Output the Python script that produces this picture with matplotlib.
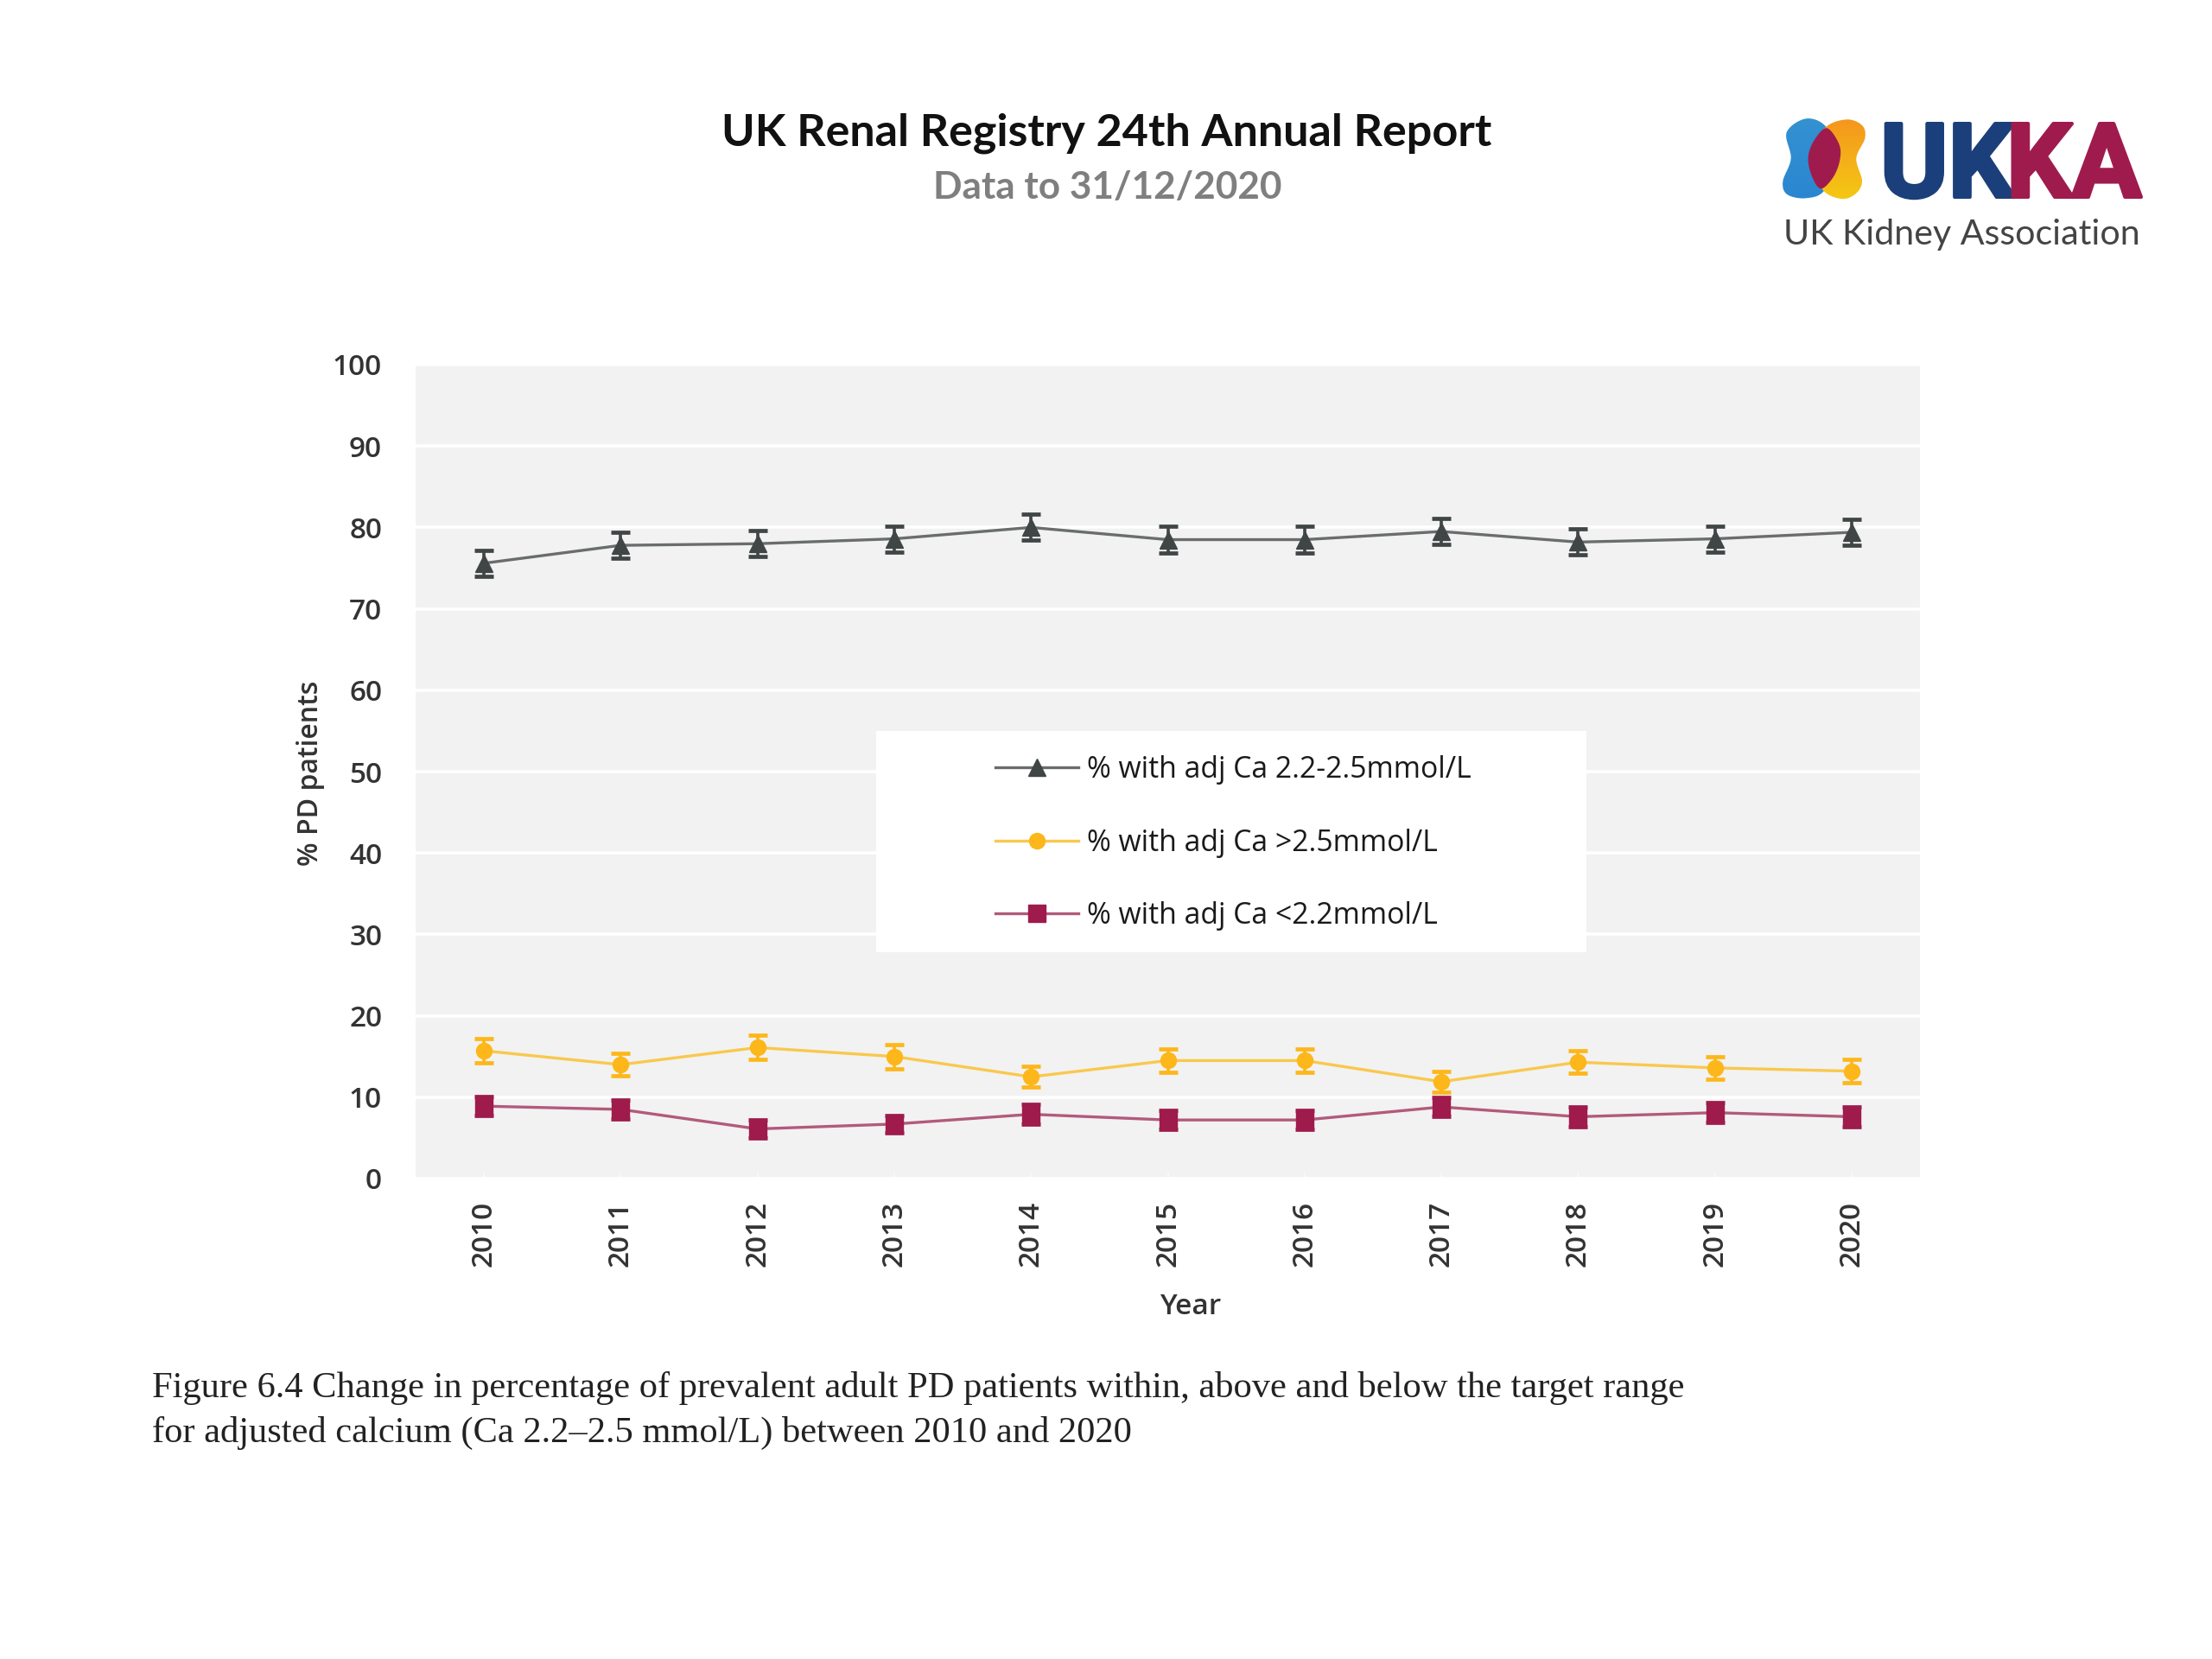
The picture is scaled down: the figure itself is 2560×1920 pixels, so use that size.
import numpy as np
import matplotlib
matplotlib.use('Agg')
import matplotlib.pyplot as plt
from matplotlib.patches import Rectangle, PathPatch
from matplotlib.path import Path
from matplotlib.lines import Line2D
import matplotlib.patheffects as pe

years = ['2010','2011','2012','2013','2014','2015','2016','2017','2018','2019','2020']
within = [75.6,77.8,78.0,78.6,80.0,78.5,78.5,79.5,78.2,78.6,79.4]
above = [15.7,14.0,16.1,15.0,12.5,14.5,14.5,11.9,14.3,13.6,13.2]
below = [8.9,8.5,6.1,6.7,7.9,7.2,7.2,8.8,7.6,8.1,7.6]
within_err = [1.6,1.6,1.6,1.6,1.6,1.6,1.6,1.6,1.6,1.6,1.6]
above_err = [1.5,1.4,1.5,1.5,1.3,1.4,1.4,1.3,1.4,1.4,1.4]
below_err = [1.2,1.2,1.1,1.1,1.2,1.2,1.2,1.2,1.2,1.2,1.2]
labels = ['% with adj Ca 2.2-2.5mmol/L','% with adj Ca >2.5mmol/L','% with adj Ca <2.2mmol/L']
yticks = list(range(0,101,10))

W,H = 2560,1920
FONT = 'Open Sans'
fig = plt.figure(figsize=(W/100,H/100),dpi=100,facecolor='white')
L,R,T,B = 481,2222,422,1364
ax = fig.add_axes([L/W,1-B/H,(R-L)/W,(B-T)/H])
ax.set_facecolor('#F2F2F2')
for s in ax.spines.values():
    s.set_visible(False)
ax.set_xlim(-0.5,10.5); ax.set_ylim(0,100)
ax.set_yticks(yticks)
ax.yaxis.grid(True,color='white',lw=2.6); ax.set_axisbelow(True)
x = np.arange(len(years))
ax.set_xticks(x); ax.set_xticklabels(years,rotation=90)
ax.tick_params(axis='x',length=5,width=1.2,color='#FAFAFA',direction='in',pad=18.5,labelsize=24,labelcolor='#333333')
ax.tick_params(axis='y',length=0,pad=28,labelsize=24,labelcolor='#333333')
for t in ax.get_xticklabels()+ax.get_yticklabels():
    t.set_family(FONT); t.set_fontweight('semibold')
ax.set_ylabel('% PD patients',family=FONT,fontweight='semibold',fontsize=23,color='#333333',labelpad=6.5,y=0.498)
ax.set_xlabel('Year',family=FONT,fontweight='semibold',fontsize=24,color='#333333',labelpad=21.5,x=0.515)

series = [(within,within_err,'#6A6D6D','#404545','^',14),
          (above,above_err,'#F9C84E','#FDB71A','o',13),
          (below,below_err,'#B25A7C','#9E1B4C','s',14)]
for v,e,lc,mc,m,ms in series:
    ax.plot(x,v,color=lc,lw=2.4,zorder=3)
    ax.errorbar(x,v,yerr=e,fmt='none',ecolor=mc,elinewidth=2.6,capsize=8,capthick=3.4,zorder=4)
    ax.plot(x,v,ls='none',marker=m,ms=ms,mfc=mc,mec=mc,zorder=5)

# full-figure pixel overlay
ov = fig.add_axes([0,0,1,1],zorder=10)
ov.set_xlim(0,W); ov.set_ylim(H,0); ov.axis('off')
ov.add_patch(Rectangle((1014,846),822,256,fc='white',ec='none'))
handles = [Line2D([],[],color=lc,lw=2.4,marker=m,ms=ms,mfc=mc,mec=mc) for _,_,lc,mc,m,ms in series]
leg = ov.legend(handles,labels,loc='upper left',bbox_to_anchor=(1152/W,1-874/H),frameon=False,
    handlelength=2.85,handletextpad=0.3,labelspacing=1.5,borderpad=0,borderaxespad=0,
    prop={'family':FONT,'size':24.3,'weight':'normal'},labelcolor='#1A1A1A')

fig.text(1281/W,1-154/H,'UK Renal Registry 24th Annual Report',ha='center',va='center',family='Lato',fontweight='bold',fontsize=37.5,color='#111111')
fig.text(1282/W,1-217/H,'Data to 31/12/2020',ha='center',va='center',family='Lato',fontweight='bold',fontsize=31.8,color='#7F7F7F')

cap = ['Figure 6.4 Change in percentage of prevalent adult PD patients within, above and below the target range',
       'for adjusted calcium (Ca 2.2\u20132.5 mmol/L) between 2010 and 2020']
for yy,s in zip((1606,1658),cap):
    ov.text(176,yy,s,ha='left',va='center',family='Liberation Serif',fontsize=30.6,color='#222222')

# logo
def smooth(pts,n=24):
    p=np.array(pts,float); out=[]
    N=len(p)
    for i in range(N):
        p0,p1,p2,p3=p[(i-1)%N],p[i],p[(i+1)%N],p[(i+2)%N]
        for t in np.linspace(0,1,n,endpoint=False):
            out.append(0.5*((2*p1)+(-p0+p2)*t+(2*p0-5*p1+4*p2-p3)*t*t+(-p0+3*p1-3*p2+p3)*t**3))
    return Path(np.array(out+[out[0]]),closed=True)
def logo_xy(z):
    return [(2000+a/3,100+b/3) for a,b in z]
blue = smooth(logo_xy([(270,112),(340,140),(380,240),(335,360),(270,388),(205,375),(190,330),(218,250),(203,160)]))
orange = smooth(logo_xy([(410,115),(465,135),(475,180),(445,250),(465,330),(440,375),(390,390),(325,355),(280,245),(335,145)]))
lens = smooth(logo_xy([(343,145),(385,200),(388,255),(365,315),(322,355),(290,310),(278,245),(300,185)]))
def grad(c1,c2,box,path):
    a=np.array(matplotlib.colors.to_rgb(c1)); b=np.array(matplotlib.colors.to_rgb(c2))
    t=np.linspace(0,1,64)[:,None,None]
    img=a[None,None,:]*(1-t)+b[None,None,:]*t
    im=ov.imshow(img,extent=box,aspect='auto',zorder=11)
    im.set_clip_path(PathPatch(path,transform=ov.transData))
grad('#3492D2','#2A86D0',(2060,2130,232,134),blue)
grad('#F5941E','#F4C913',(2090,2162,232,134),orange)
ov.set_xlim(0,W); ov.set_ylim(H,0)
ov.add_patch(PathPatch(lens,fc='#A01B4D',ec='none',zorder=12))
ov.text(2176,228,'UK',ha='left',va='baseline',family='Roboto',fontweight='bold',fontsize=86,color='#1B3F7A',zorder=13,
        path_effects=[pe.withStroke(linewidth=3,foreground='#1B3F7A')])
ov.text(2322,228,'KA',ha='left',va='baseline',family='Roboto',fontweight='bold',fontsize=86,color='#A01B4D',zorder=13,
        path_effects=[pe.withStroke(linewidth=3,foreground='#A01B4D')])
ov.text(2064,272,'UK Kidney Association',ha='left',va='center',family='Lato',fontsize=29.6,color='#444444',zorder=13)

fig.savefig('out.png',dpi=100,facecolor='white')
